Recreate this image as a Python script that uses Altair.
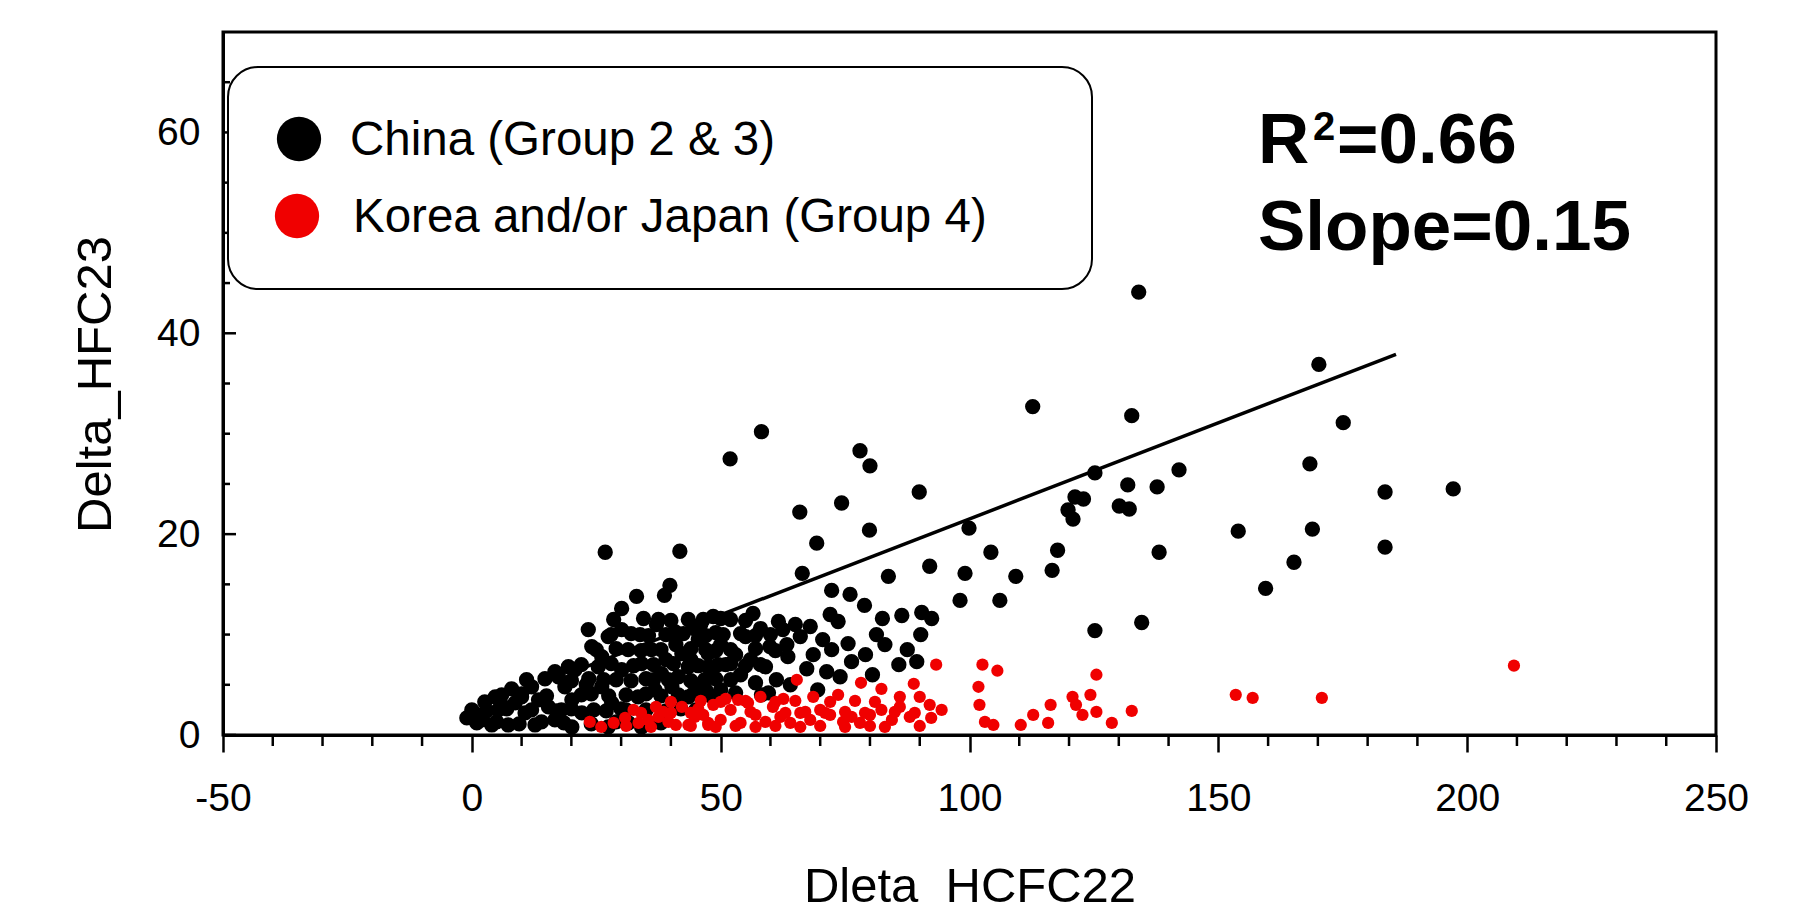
import altair as alt
import pandas as pd

# ---------------- data ----------------
GROUPS = ["China (Group 2 & 3)", "Korea and/or Japan (Group 4)"]
COLORS = ["#000000", "#F00000"]

BLACK_X = [134.0, 170.2, 112.7, 132.6, 175.1, 168.4, 125.2, 142.1, 131.8, 137.7,
           183.5, 197.2, 121.2, 122.9, 119.8, 120.8, 130.1, 132.1, 99.9, 154.0,
           168.9, 183.5, 104.3, 117.7, 138.1, 99.1, 109.3, 116.6, 165.2, 159.5,
           106.1, 98.1, 125.2, 134.6,
           58.2, 51.9, 78.0, 80.0, 89.9, 65.9, 74.3, 79.9, 69.3, 26.8, 41.8,
           66.4, 92.0, 83.7, 72.3, 76.0, 78.9, 72.0, 73.6, 82.5, 86.4,
           90.4, 92.4, 90.2, 81.3, 61.6, 56.5, 66.0, 63.3, 72.3, 75.6,
           79.1, 76.3, 85.8, 89.4, 68.6, 71.3, 67.3, 59.9, 61.2, 59.6,
           46.0, 49.0, 52.0, 55.0, 58.0, 47.0, 50.0, 53.0, 56.0, 48.0,
           51.0, 54.0, 57.0, 46.0, 50.0, 53.0, 59.0, 47.0, 63.5, 58.2,
           39.8, 38.7, 33.1, 30.1, 37.5, 37.1, 23.4, 30.1, 27.4, 33.8,
           43.5, 40.8, 45.5, 24.1, 36.1, 42.2, 47.5, 20.7, 25.4, 30.1,
           34.1, 38.1, 43.5, 46.8, 14.7, 17.4, 18.7, 12.0, 8.0, 4.7,
           2.6, -1.0, 2.0, 5.3, 8.7, 10.7, 13.4, 15.4, 16.7, 20.1,
           22.1, 26.1, 28.1, 33.4, 36.8, 40.2, 43.5, 34.1, 27.4, 20.1,
           12.7, 7.3, 46.2, 47.5, 31.4, 26.1, 45.0, 48.5, 41.0, 44.0,
           39.0, 36.5, 41.5, 29.0, 23.0, 31.0, 10.0, 6.0, 0.5, 4.0,
           18.0, 16.7, 19.4,
           1.0, 5.0, 9.5, 14.0, 18.5, 24.0, 29.0, 31.5, 36.0, 38.0,
           0.0, 3.0, 7.0, 12.0, 17.0, 20.0, 24.5, 27.0, 30.0, 35.0, 39.0, 42.0, 45.0,
           6.0, 10.0, 15.0, 22.0, 24.0, 27.5, 31.0, 35.0, 38.0, 41.5, 44.5, 48.0,
           11.0, 20.0, 23.5, 26.5, 32.0, 35.0, 39.5, 44.0, 49.0, 52.0,
           22.0, 28.0, 32.5, 36.5, 40.5, 45.5, 49.5, 52.0, 55.0, 58.0,
           25.0, 29.0, 34.0, 38.0, 44.0, 49.0, 52.0, 57.0, 61.0,
           28.0, 32.0, 35.5, 39.0, 42.5, 47.0, 50.5, 54.0, 57.0, 60.0,
           28.5, 34.5, 40.0, 46.5, 50.0, 55.0,
           62.5, 65.0, 68.0, 70.5, 64.0, 69.5, 74.0, 83.0, 87.5, 80.5]
BLACK_Y = [44.1, 36.9, 32.7, 31.8, 31.1, 27.0, 26.1, 26.4, 24.9, 24.7,
           24.2, 24.5, 23.7, 23.5, 22.4, 21.5, 22.8, 22.5, 20.6, 20.3,
           20.5, 18.7, 18.2, 18.4, 18.2, 16.1, 15.8, 16.4, 17.2, 14.6,
           13.4, 13.4, 10.4, 11.2,
           30.2, 27.5, 28.3, 26.8, 24.2, 22.2, 23.1, 20.4, 19.1, 18.2, 18.3,
           16.1, 16.8, 15.8, 14.4, 14.0, 12.9, 12.0, 11.3, 11.6, 11.9,
           12.2, 11.6, 10.0, 10.0, 11.3, 12.1, 9.8, 9.0, 8.5, 9.1,
           8.0, 7.3, 7.0, 7.3, 8.0, 6.3, 6.6, 8.8, 5.5, 4.2,
           11.0, 10.2, 11.5, 9.8, 10.6, 8.5, 9.0, 8.0, 7.5, 6.5,
           7.0, 6.0, 5.2, 5.0, 4.5, 4.2, 6.8, 4.5, 7.8, 4.0,
           14.9, 13.9, 13.8, 12.6, 11.5, 11.0, 10.5, 10.5, 9.8, 10.0,
           11.5, 10.3, 9.5, 8.8, 8.5, 8.1, 8.1, 6.5, 6.8, 6.5,
           7.1, 6.1, 6.8, 5.5, 5.6, 5.8, 4.8, 4.8, 4.6, 3.8,
           3.3, 1.7, 1.5, 2.5, 3.2, 2.2, 3.5, 2.8, 1.5, 3.5,
           2.2, 4.8, 3.2, 3.8, 4.5, 4.8, 3.8, 0.8, 0.8, 0.8,
           1.0, 1.0, 4.2, 6.8, 8.5, 7.8, 10.5, 11.8, 9.0, 7.5,
           7.5, 5.5, 5.8, 5.5, 5.0, 2.5, 3.8, 3.0, 2.2, 1.0,
           2.5, 6.3, 6.8,
           1.2, 1.3, 1.1, 1.3, 1.2, 1.1, 1.3, 1.2, 1.1, 1.2,
           2.5, 2.4, 2.6, 2.5, 2.4, 2.6, 2.5, 2.4, 2.6, 2.5, 2.4, 2.6, 2.5,
           4.0, 4.1, 3.9, 4.0, 4.1, 3.9, 4.0, 4.1, 3.9, 4.0, 4.1, 3.9,
           5.5, 5.4, 5.6, 5.5, 5.4, 5.6, 5.5, 5.4, 5.6, 5.5,
           7.0, 7.1, 6.9, 7.0, 7.1, 6.9, 7.0, 7.1, 6.9, 7.0,
           8.5, 8.6, 8.4, 8.5, 8.6, 8.4, 8.5, 8.6, 8.4,
           10.0, 10.1, 9.9, 10.0, 10.1, 9.9, 10.0, 10.1, 9.9, 10.0,
           11.5, 11.6, 11.4, 11.5, 11.6, 11.4,
           10.5, 11.0, 10.8, 9.5, 5.0, 4.5, 5.8, 9.0, 8.5, 6.0]

RED_X = [102.6, 105.6, 101.8, 102.0, 103.1, 104.8, 110.3, 112.8, 115.8, 116.3,
         120.7, 121.4, 122.7, 124.3, 125.5, 125.5, 128.6, 132.6, 153.5, 156.9,
         170.8, 209.4,
         93.3, 65.3, 78.2, 82.3, 88.8, 73.6, 86.0, 90.0, 92.0, 94.4,
         76.3, 80.0, 82.3, 84.4, 74.6, 92.3, 68.6, 70.0, 66.0, 62.6,
         46.5, 48.5, 50.0, 52.0, 54.0, 55.5, 57.0, 59.0, 60.5, 62.0,
         51.0, 58.0, 47.5, 53.5, 64.0, 68.0, 72.0, 78.0, 88.0, 86.0,
         23.7, 30.8, 35.4, 39.5, 42.2, 44.8, 47.5, 43.5, 37.5, 32.5,
         37.0, 40.0, 45.5, 41.0, 33.5, 28.5,
         26.0, 31.0, 36.0, 44.0, 49.0, 53.0, 57.0, 61.0, 66.0, 70.0, 75.0, 80.0, 83.0, 90.0,
         34.0, 38.5, 44.0, 56.0, 63.0, 67.0, 71.0, 75.0, 79.0, 85.0, 89.0,
         40.0, 46.0, 50.0, 55.0, 61.0, 65.0, 72.0, 77.0, 81.0]
RED_Y = [7.0, 6.4, 4.8, 3.0, 1.3, 1.0, 1.0, 2.0, 1.2, 3.0,
         3.8, 3.0, 2.0, 4.0, 6.0, 2.3, 1.2, 2.4, 4.0, 3.7,
         3.7, 6.9,
         7.0, 5.5, 5.2, 4.6, 5.1, 4.0, 3.8, 3.8, 3.0, 2.5,
         1.8, 2.0, 2.5, 1.5, 1.3, 1.7, 3.8, 2.5, 2.2, 3.6,
         2.0, 3.0, 1.5, 2.5, 1.2, 3.2, 2.0, 1.3, 2.8, 1.8,
         3.6, 3.8, 1.0, 3.5, 1.2, 1.5, 2.0, 1.2, 1.8, 2.8,
         1.3, 1.7, 1.5, 1.3, 2.8, 1.8, 1.2, 1.0, 1.8, 2.5,
         2.8, 2.2, 2.6, 1.0, 1.2, 1.2,
         0.8, 0.9, 0.8, 0.9, 0.8, 0.9, 0.8, 0.9, 0.8, 0.9, 0.8, 0.9, 0.8, 0.9,
         2.2, 2.3, 2.2, 2.3, 2.2, 2.3, 2.2, 2.3, 2.2, 2.3, 2.2,
         3.3, 3.4, 3.3, 3.4, 3.3, 3.4, 3.3, 3.4, 3.3]

FIT_X = [22.0, 185.7]
FIT_Y = [6.6, 37.9]

X_TICKS = [-50, 0, 50, 100, 150, 200, 250]
X_MINOR = [v for v in range(-40, 250, 10) if v % 50 != 0]
Y_TICKS = [0, 20, 40, 60]
Y_MINOR = [v for v in range(5, 70, 5) if v % 20 != 0]

# statistics text: (text, x offset px, baseline px, font size)
STAT_PARTS = [("R", 1035, 131, 71), ("2", 1090, 108, 40), ("=0.66", 1114, 131, 71),
              ("Slope=0.15", 1035, 218, 71)]

# ---------------- tables ----------------
pts = pd.concat([
    pd.DataFrame({"x": BLACK_X, "y": BLACK_Y, "group": GROUPS[0], "ord": 0}),
    pd.DataFrame({"x": RED_X, "y": RED_Y, "group": GROUPS[1], "ord": 1}),
], ignore_index=True)
fit = pd.DataFrame({"x": FIT_X, "y": FIT_Y})

FONT = "Liberation Sans"
xs = alt.Scale(domain=[-50, 250], nice=False, zero=False)
ys = alt.Scale(domain=[0, 70], nice=False, zero=False)

X_AXIS = alt.Axis(
    values=X_TICKS, tickSize=17, tickWidth=2.5, tickColor="black",
    labelPadding=27, labelFontSize=39, labelFlush=False, labelOverlap=False,
    labelExpr="'' + datum.value",
    title="Dleta\u00a0\u00a0HCFC22", titleFontSize=49, titleFontWeight="normal",
    titleY=166, titleBaseline="alphabetic")
Y_AXIS = alt.Axis(
    values=Y_TICKS, ticks=False, tickSize=0, labelPadding=23, labelFontSize=39,
    labelFlush=False, labelOverlap=False,
    title="Delta_HFC23", titleFontSize=49, titleFontWeight="normal",
    titleX=-113, titleY=352, titleBaseline="alphabetic")

X = alt.X("x:Q", scale=xs, axis=X_AXIS, title="Dleta\u00a0\u00a0HCFC22")
Y = alt.Y("y:Q", scale=ys, axis=Y_AXIS, title="Delta_HFC23")

points = alt.Chart(pts).mark_circle(opacity=1).encode(
    x=X, y=Y,
    color=alt.Color("group:N", scale=alt.Scale(domain=GROUPS, range=COLORS), legend=None),
    size=alt.Size("group:N", scale=alt.Scale(domain=GROUPS, range=[235, 150]), legend=None),
    order=alt.Order("ord:Q"),
)

line = alt.Chart(fit).mark_line(color="black", strokeWidth=3.5).encode(x=X, y=Y)

y_major = alt.Chart(pd.DataFrame({"y": Y_TICKS})).mark_rule(color="black", strokeWidth=2.5).encode(
    y=Y, x=alt.value(0), x2=alt.value(13))
y_minor = alt.Chart(pd.DataFrame({"y": Y_MINOR})).mark_rule(color="black", strokeWidth=2.5).encode(
    y=Y, x=alt.value(0), x2=alt.value(7))
x_minor = alt.Chart(pd.DataFrame({"x": X_MINOR})).mark_rule(color="black", strokeWidth=2.5).encode(
    x=X, y=alt.value(703), y2=alt.value(714))

one = pd.DataFrame({"a": [0]})
legend_box = alt.Chart(one).mark_rect(fill="white", stroke="black", strokeWidth=2,
                                      cornerRadius=30).encode(
    x=alt.value(5), x2=alt.value(869), y=alt.value(35), y2=alt.value(257))

leg_layers = []
for i, (g, c) in enumerate(zip(GROUPS, COLORS)):
    cy = 107 + i * 77
    leg_layers.append(alt.Chart(one).mark_circle(opacity=1, size=1960, color=c).encode(
        x=alt.value(76 - 2 * i), y=alt.value(cy)))
    leg_layers.append(alt.Chart(one).mark_text(
        align="left", baseline="alphabetic", fontSize=47.5, font=FONT, color="black").encode(
        x=alt.value(127 + 3 * i), y=alt.value(cy + 16), text=alt.value(g)))

stat_layers = []
for s, sx, sy, fs in STAT_PARTS:
    stat_layers.append(alt.Chart(one).mark_text(
        align="left", baseline="alphabetic", fontSize=fs, fontWeight="bold",
        font=FONT, color="black").encode(
        x=alt.value(sx), y=alt.value(sy), text=alt.value(s)))

chart = alt.layer(
    points, line, y_major, y_minor, x_minor, legend_box, *leg_layers, *stat_layers
).properties(
    width=1493, height=703,
    padding={"left": 223, "top": 32, "right": 94, "bottom": 175},
    autosize=alt.AutoSizeParams(type="none"),
    background="white",
).configure_view(
    stroke="black", strokeWidth=3
).configure_axis(
    domainColor="black", domainWidth=3, labelColor="black", titleColor="black",
    labelFont=FONT, titleFont=FONT, grid=False
)

chart.save("out.html", embed_options={"renderer": "svg", "actions": False})
